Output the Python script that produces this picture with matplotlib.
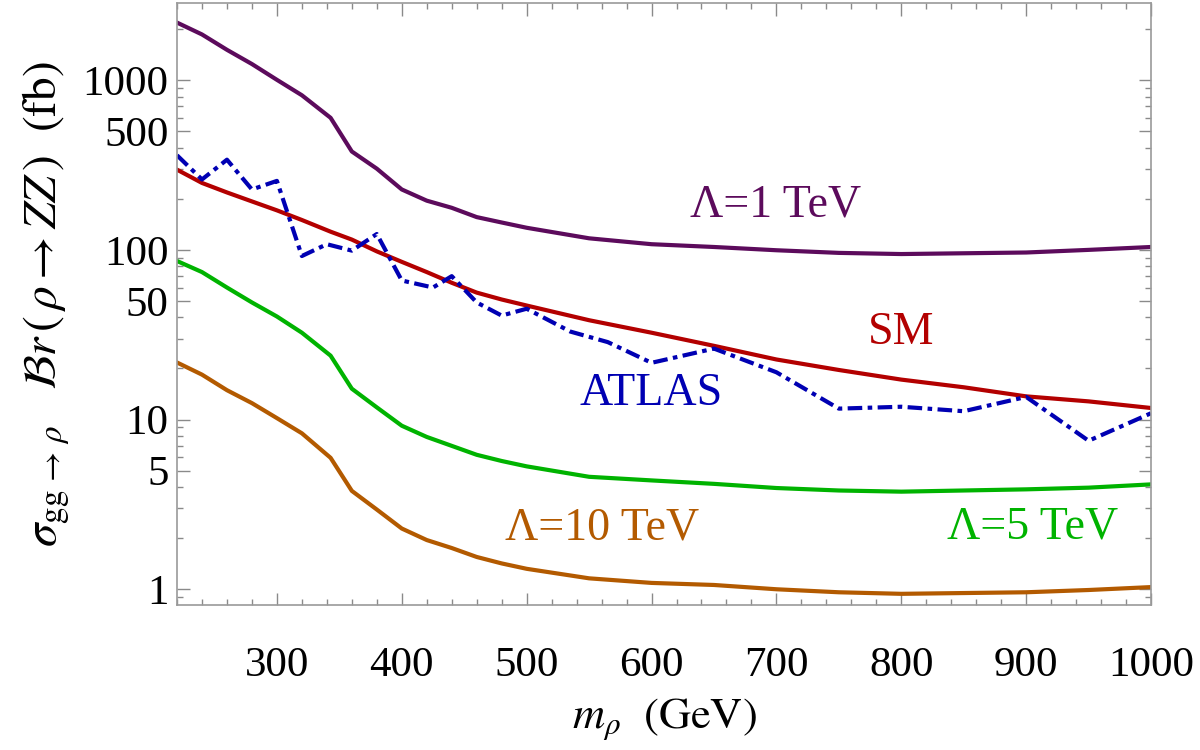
import numpy as np
import matplotlib
matplotlib.use("Agg")
import matplotlib.pyplot as plt
from matplotlib.ticker import FixedLocator, LogLocator, MultipleLocator, NullFormatter

plt.rcParams['font.family'] = ['Liberation Serif', 'DejaVu Serif']
plt.rcParams['mathtext.fontset'] = 'stix'

# rho mass grid (GeV)
m_rho = [220, 240, 260, 280, 300, 320, 343, 360, 380, 400, 420, 440, 460,
         480, 500, 550, 600, 650, 700, 750, 800, 850, 900, 950, 1000]

# sigma x Br (fb) for the three cutoffs and the SM-like case
lam1 = [2185, 1860, 1510, 1245, 1005, 815, 600, 380, 301, 227, 195, 177, 156,
        145, 135, 117, 108, 104, 99.5, 96, 94.5, 95.5, 96.5, 100, 104]
lam5 = [86, 74, 60, 49, 40.5, 32.5, 23.8, 15.2, 11.8, 9.2, 7.9, 7.0, 6.2,
        5.7, 5.3, 4.6, 4.38, 4.18, 3.95, 3.82, 3.76, 3.82, 3.88, 3.97, 4.15]
lam10 = [21.7, 18.4, 14.9, 12.5, 10.2, 8.3, 5.95, 3.8, 2.95, 2.28, 1.95, 1.75, 1.55,
         1.42, 1.32, 1.16, 1.09, 1.06, 1.0, 0.96, 0.94, 0.95, 0.96, 0.99, 1.03]
sm = [297, 248, 218, 193, 171, 150, 128, 115, 98, 85, 74, 64, 56,
      51, 47, 38.5, 32.5, 27.2, 22.6, 19.6, 17.2, 15.5, 13.7, 12.8, 11.7]

# ATLAS observed limit
atlas_m = [220, 240, 260, 280, 300, 320, 340, 360, 380, 400, 425, 440, 460, 480,
           500, 535, 565, 600, 650, 700, 750, 800, 850, 900, 950, 1000]
atlas = [361, 260, 340, 227, 255, 92, 108, 99, 124, 66, 60, 70, 49, 41,
         45, 33, 28.6, 21.6, 26.2, 19, 11.6, 11.9, 11.2, 13.6, 7.5, 10.9]

c_purple = '#5c0b5c'
c_red = '#b30000'
c_blue = '#0000b3'
c_green = '#00b300'
c_orange = '#b35a00'

fig = plt.figure(figsize=(12, 7.5), dpi=100)
ax = fig.add_axes([0.1475, 0.193, 0.8117, 0.803])

lw = 3
ax.plot(m_rho, lam1, color=c_purple, lw=lw)
ax.plot(m_rho, sm, color=c_red, lw=lw)
ax.plot(atlas_m, atlas, color=c_blue, lw=lw, dashes=(3.5, 1.3, 1.1, 1.3))
ax.plot(m_rho, lam5, color=c_green, lw=lw)
ax.plot(m_rho, lam10, color=c_orange, lw=lw)

ax.set_yscale('log')
ax.set_xlim(220, 1000)
ax.set_ylim(0.805, 2850)

ax.yaxis.set_major_locator(FixedLocator([1, 5, 10, 50, 100, 500, 1000]))
ax.yaxis.set_minor_locator(LogLocator(base=10, subs=np.arange(2, 10)))
ax.set_yticklabels(['1', '5', '10', '50', '100', '500', '1000'])
ax.yaxis.set_minor_formatter(NullFormatter())
ax.xaxis.set_major_locator(MultipleLocator(100))
ax.xaxis.set_minor_locator(MultipleLocator(20))

for s in ax.spines.values():
    s.set_color('#9a9a9a')
    s.set_linewidth(1.2)
ax.tick_params(which='both', direction='in', top=True, right=True,
               color='#8a8a8a', width=1, labelsize=31, labelcolor='black')
ax.tick_params(which='major', length=9)
ax.tick_params(which='minor', length=4.5)
ax.tick_params(axis='x', which='major', pad=30)
ax.tick_params(axis='y', which='major', pad=6)

ax.set_xlabel(r'$m_\rho\ \ (\mathrm{GeV})$', fontsize=32, labelpad=8)
ax.set_ylabel(r'$\sigma_{\mathrm{gg}\,\rightarrow\,\rho}\ \ \ \mathcal{B}r\,(\,\rho\rightarrow ZZ\,)\ \ (\mathrm{fb})$',
              fontsize=34, labelpad=8)

ax.text(699, 183, 'Λ=1 TeV', color=c_purple, fontsize=33, ha='center', va='center')
ax.text(800, 32.3, 'SM', color=c_red, fontsize=33, ha='center', va='center')
ax.text(600, 14.1, 'ATLAS', color=c_blue, fontsize=33, ha='center', va='center')
ax.text(560, 2.29, 'Λ=10 TeV', color=c_orange, fontsize=33, ha='center', va='center')
ax.text(905, 2.32, 'Λ=5 TeV', color=c_green, fontsize=33, ha='center', va='center')

fig.savefig('out.png', dpi=100)
